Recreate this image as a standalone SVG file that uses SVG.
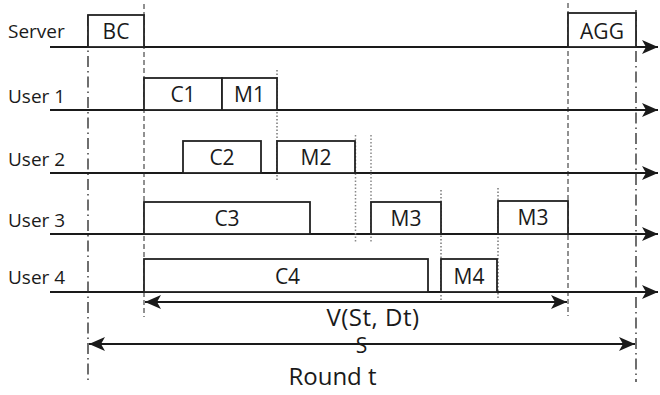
<svg xmlns="http://www.w3.org/2000/svg" width="660" height="395" viewBox="0 0 660 395">
  <style>
    .lbl { font-family: "Open Sans", "Liberation Sans", sans-serif; font-size: 19px; fill: #1a1a1a; }
    .txt { font-family: "Open Sans", "Liberation Sans", sans-serif; font-size: 21px; fill: #1a1a1a; text-anchor: middle; }
    .big { font-family: "Open Sans", "Liberation Sans", sans-serif; font-size: 24px; fill: #1a1a1a; text-anchor: middle; }
    .box { fill: #ffffff; stroke: #222; stroke-width: 1.8; }
    .axis { stroke: #1a1a1a; stroke-width: 2; fill: none; }
    .dashdot { stroke: #222; stroke-width: 1.3; stroke-dasharray: 11 4 1.5 4; fill: none; }
    .dash { stroke: #222; stroke-width: 1; stroke-dasharray: 5 3; fill: none; }
    .dot { stroke: #333; stroke-width: 1; stroke-dasharray: 1.5 2; fill: none; }
    .dotg { stroke: #888; stroke-width: 1.5; stroke-dasharray: 1.5 2; fill: none; }
    .span { stroke: #1a1a1a; stroke-width: 1.8; fill: none; }
  </style>
  <defs>
    <marker id="tip" viewBox="0 0 16 14" refX="16" refY="7" markerWidth="16" markerHeight="14" markerUnits="userSpaceOnUse" orient="auto-start-reverse">
      <path d="M0,0 L16,7 L0,14 L4,7 Z" fill="#1a1a1a"/>
    </marker>
  </defs>

  <!-- time axes -->
  <g id="axes">
    <line class="axis" x1="50" y1="47" x2="658" y2="47" marker-end="url(#tip)"/>
    <line class="axis" x1="50" y1="110" x2="658" y2="110" marker-end="url(#tip)"/>
    <line class="axis" x1="50" y1="173" x2="658" y2="173" marker-end="url(#tip)"/>
    <line class="axis" x1="50" y1="234" x2="658" y2="234" marker-end="url(#tip)"/>
    <line class="axis" x1="50" y1="292" x2="658" y2="292" marker-end="url(#tip)"/>
  </g>

  <!-- row labels -->
  <g id="labels">
    <text class="lbl" x="8" y="38">Server</text>
    <text class="lbl" x="8" y="103">User 1</text>
    <text class="lbl" x="8" y="166">User 2</text>
    <text class="lbl" x="8" y="227">User 3</text>
    <text class="lbl" x="8" y="284">User 4</text>
  </g>

  <!-- vertical markers -->
  <g id="markers">
    <line class="dashdot" x1="88" y1="15" x2="88" y2="382"/>
    <line class="dashdot" x1="636" y1="10" x2="636" y2="382"/>
    <line class="dash" x1="144" y1="4" x2="144" y2="317"/>
    <line class="dash" x1="568" y1="3" x2="568" y2="316"/>
    <line class="dot" x1="277" y1="70" x2="277" y2="182"/>
    <line class="dotg" x1="355.5" y1="135" x2="355.5" y2="243"/>
    <line class="dotg" x1="371" y1="135" x2="371" y2="243"/>
    <line class="dot" x1="441" y1="190" x2="441" y2="300"/>
    <line class="dot" x1="498" y1="188" x2="498" y2="300"/>
  </g>

  <g id="bc"><rect class="box" x="88" y="15" width="56" height="32"/><text class="txt" x="116" y="39">BC</text></g>
  <g id="agg"><rect class="box" x="568" y="13" width="68" height="34"/><text class="txt" x="602" y="39">AGG</text></g>
  <g id="c1"><rect class="box" x="144" y="78" width="78" height="32"/><text class="txt" x="183" y="102">C1</text></g>
  <g id="m1"><rect class="box" x="222" y="78" width="55" height="32"/><text class="txt" x="249.5" y="102">M1</text></g>
  <g id="c2"><rect class="box" x="183" y="141" width="78" height="32"/><text class="txt" x="222" y="165">C2</text></g>
  <g id="m2"><rect class="box" x="277" y="141" width="78" height="32"/><text class="txt" x="316" y="165">M2</text></g>
  <g id="c3"><rect class="box" x="144" y="202" width="166" height="32"/><text class="txt" x="227" y="226">C3</text></g>
  <g id="m3a"><rect class="box" x="371" y="202" width="70" height="32"/><text class="txt" x="406" y="226">M3</text></g>
  <g id="m3b"><rect class="box" x="498" y="201" width="70" height="33"/><text class="txt" x="533" y="225">M3</text></g>
  <g id="c4"><rect class="box" x="144" y="259" width="284" height="33"/><text class="txt" x="287.5" y="284">C4</text></g>
  <g id="m4"><rect class="box" x="441" y="259" width="56" height="33"/><text class="txt" x="469" y="284">M4</text></g>

  <!-- spans -->
  <g id="spans">
    <line class="span" x1="145" y1="302" x2="567" y2="302" marker-start="url(#tip)" marker-end="url(#tip)"/>
    <line class="span" x1="89" y1="344" x2="635" y2="344" marker-start="url(#tip)" marker-end="url(#tip)"/>
  </g>
  <g id="span-labels">
    <text class="big" x="373" y="326" letter-spacing="0.5">V(St, Dt)</text>
    <text class="txt" x="361.5" y="353" font-size="17">S</text>
    <text class="big" x="332.5" y="385" font-size="25">Round t</text>
  </g>
</svg>
